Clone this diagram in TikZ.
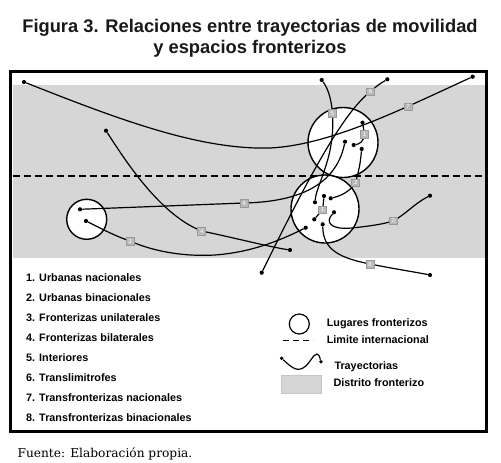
\documentclass[tikz,border=0pt]{standalone}
\usepackage{fontspec}
\setmainfont{Liberation Sans}
\newfontfamily\srf{DejaVu Serif}
\definecolor{district}{RGB}{214,214,214}
\begin{document}
\begin{tikzpicture}[x=1pt,y=-1pt,
  place/.style={circle,draw=black,line width=1.4pt,fill=white,inner sep=0pt},
  dot/.style={circle,fill=black,inner sep=0pt,minimum size=4.2pt},
  traj/.style={line width=1.2pt},
  lab/.style={rectangle,fill=gray!55,draw=gray!80,line width=0.5pt,text=white,font=\fontsize{6}{6}\selectfont,inner sep=0pt,minimum width=8pt,minimum height=7.5pt},
  legtext/.style={anchor=base west,font=\fontsize{10.8}{12}\selectfont\bfseries,text=black},
]
\useasboundingbox (0,0) rectangle (501,463);
\fill[white] (0,0) rectangle (501,463);

% title
\node[anchor=base,font=\fontsize{18.3}{21}\selectfont\bfseries,text=black!90] (title1) at (250,32.5) {Figura 3. Relaciones entre trayectorias de movilidad};
\node[anchor=base,font=\fontsize{18.3}{21}\selectfont\bfseries,text=black!90] (title2) at (250,53.5) {y espacios fronterizos};

% district and border
\fill[district] (12.5,85) rectangle (484.5,258);
\coordinate (bl) at (12.5,176);
\coordinate (br) at (484.5,176);
\draw[line width=1.8pt,dash pattern=on 7pt off 4pt] (bl) -- (br);

% border places
\node[place,minimum size=70pt] (cN) at (343,142.5) {};
\node[place,minimum size=68pt] (cS) at (325,209) {};
\node[place,minimum size=40pt] (cW) at (86.7,219.3) {};

% dots
\node[dot] (t7a) at (24,82) {};
\node[dot] (t7b) at (472.7,76.7) {};
\node[dot] (t6a) at (387.3,79.3) {};
\node[dot] (t6b) at (261.7,272.7) {};
\node[dot] (t5a) at (321.7,80) {};
\node[dot] (t5b) at (315,202.3) {};
\node[dot] (t1a) at (362.5,122.7) {};
\node[dot] (t1b) at (353.7,145) {};
\node[dot] (t4a) at (345,141.7) {};
\node[dot] (t4b) at (80,209.3) {};
\node[dot] (t2a) at (361.7,149) {};
\node[dot] (t2b) at (330.7,198.3) {};
\node[dot] (t1c) at (324,196) {};
\node[dot] (t1d) at (314.3,219.3) {};
\node[dot] (t3a) at (334,212.3) {};
\node[dot] (t3b) at (430,195.7) {};
\node[dot] (t8a) at (322.7,224.3) {};
\node[dot] (t8b) at (430,275) {};
\node[dot] (t3c) at (305.7,227.7) {};
\node[dot] (t3d) at (86,221) {};
\node[dot] (t4c) at (106,130.7) {};
\node[dot] (t4d) at (290,250) {};

% label positions
\coordinate (p7) at (408,106.5);
\coordinate (p6) at (370.5,91.5);
\coordinate (p5) at (332.3,113);
\coordinate (p1a) at (364.5,134);
\coordinate (p2) at (355.7,182.5);
\coordinate (p1b) at (322.7,209.5);
\coordinate (p3a) at (393.3,220.7);
\coordinate (p8) at (370,264);
\coordinate (p4a) at (244,203);
\coordinate (p4b) at (201.7,231);
\coordinate (p3b) at (130,241);

% trajectories
\draw[traj] (t7a) .. controls (120,120) and (200,150) .. (270,148) .. controls (330,145) and (400,110) .. (t7b);
\draw[traj] (t6a) .. controls (378,85) .. (p6) .. controls (340,115) and (300,195) .. (t6b);
\draw[traj] (t5a) .. controls (333,95) and (336,125) .. (329,155) .. controls (323,178) and (316,190) .. (t5b);
\draw[traj] (t1a) -- (p1a) .. controls (364,142) and (359,144) .. (t1b);
\draw[traj] (t4b) -- (p4a) .. controls (290,202) and (335,190) .. (t4a);
\draw[traj] (t2a) .. controls (360,165) .. (p2) .. controls (350,192) and (340,196) .. (t2b);
\draw[traj] (t1c) -- (p1b) -- (t1d);
\draw[traj] (t3a) .. controls (325,222) and (330,230) .. (352,228) .. controls (370,226) and (385,224) .. (p3a) .. controls (405,215) and (415,203) .. (t3b);
\draw[traj] (t8a) .. controls (323,250) and (340,258) .. (p8) .. controls (395,269) and (415,272) .. (t8b);
\draw[traj] (t4c) .. controls (125,160) and (160,215) .. (p4b) .. controls (235,238) and (270,247) .. (t4d);
\draw[traj] (t3d) .. controls (100,228) and (115,236) .. (p3b) .. controls (150,250) and (180,257) .. (215,255) .. controls (255,252) and (285,238) .. (t3c);

% labels
\node[lab] (l7) at (p7) {7};
\node[lab] (l6) at (p6) {6};
\node[lab] (l5) at (p5) {5};
\node[lab] (l1a) at (p1a) {1};
\node[lab] (l2) at (p2) {2};
\node[lab] (l1b) at (p1b) {1};
\node[lab] (l3a) at (p3a) {3};
\node[lab] (l8) at (p8) {8};
\node[lab] (l4a) at (p4a) {4};
\node[lab] (l4b) at (p4b) {4};
\node[lab] (l3b) at (p3b) {3};

% frame
\draw[line width=3.6pt] (10.5,71.5) rectangle (486.5,431.5);

% legend list
\node[legtext] (i1) at (22.7,281) {1. Urbanas nacionales};
\node[legtext] (i2) at (22.7,301) {2. Urbanas binacionales};
\node[legtext] (i3) at (22.7,321) {3. Fronterizas unilaterales};
\node[legtext] (i4) at (22.7,341) {4. Fronterizas bilaterales};
\node[legtext] (i5) at (22.7,361) {5. Interiores};
\node[legtext] (i6) at (22.7,381) {6. Translimitrofes};
\node[legtext] (i7) at (22.7,401) {7. Transfronterizas nacionales};
\node[legtext] (i8) at (22.7,421) {8. Transfronterizas binacionales};

% legend symbols
\node[place,line width=1.2pt,minimum size=20pt] (kc) at (299.3,324) {};
\node[legtext] (kct) at (323.3,326.7) {Lugares fronterizos};
\coordinate (kd1) at (283.3,340.7);
\coordinate (kd2) at (313.3,340.7);
\draw[line width=1.5pt,dash pattern=on 6pt off 4pt] (kd1) -- (kd2);
\node[legtext] (kdt) at (323.3,343.6) {Limite internacional};
\node[dot,minimum size=3.8pt] (kt1) at (281.7,358.3) {};
\node[dot,minimum size=3.8pt] (kt2) at (321,361.7) {};
\draw[traj] (kt1) .. controls (290,366) and (296,372) .. (303,368) .. controls (310,364) and (313,354) .. (317,354) .. controls (319,355) .. (kt2);
\node[legtext] (ktt) at (331,369.3) {Trayectorias};
\draw[draw=gray!45,fill=district,line width=0.6pt] (281,375.7) rectangle (321.7,393.3);
\node[legtext] (kgt) at (330,386) {Distrito fronterizo};

% source
\node[anchor=base west,font=\srf\fontsize{12.2}{14}\selectfont,text=black] (src) at (14,457.3) {Fuente: Elaboración propia.};
\end{tikzpicture}
\end{document}
